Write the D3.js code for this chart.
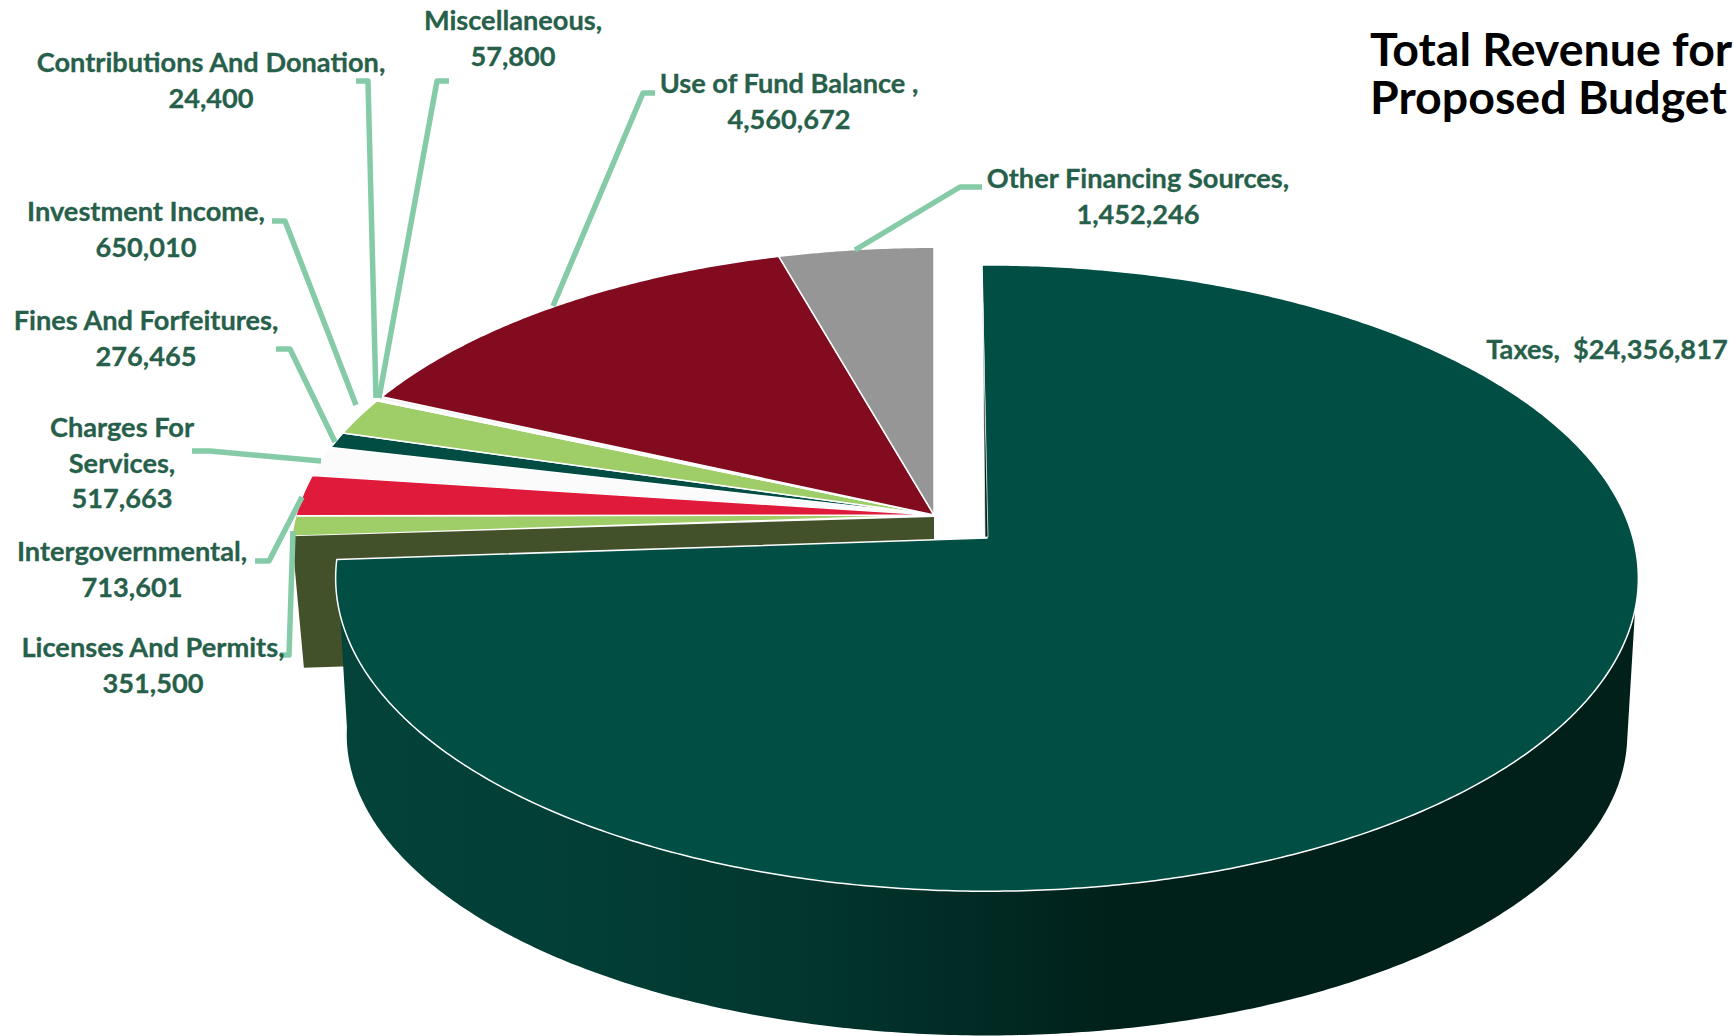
<!DOCTYPE html>
<html>
<head>
<meta charset="utf-8">
<script src="https://cdn.jsdelivr.net/npm/d3@7"></script>
<style>
  html, body { margin: 0; background: #fff; }
  svg { display: block; overflow: hidden; }
  text { font-family: Lato, Carlito, sans-serif; font-weight: 700; white-space: pre; }
</style>
</head>
<body>
<svg id="chart" width="1734" height="1036"></svg>
<script>
// Revenue sources, clockwise from twelve o'clock
const categories = ["Taxes", "Licenses And Permits", "Intergovernmental", "Charges For Services",
  "Fines And Forfeitures", "Investment Income", "Contributions And Donation", "Miscellaneous",
  "Use of Fund Balance", "Other Financing Sources"];
const revenue = [24356817, 351500, 713601, 517663, 276465, 650010, 24400, 57800, 4560672, 1452246];
const sliceColors = ["#014f44", "#9fcd68", "#e01a3a", "#fbfbfb", "#014d43", "#9fcd68",
  "#6f8a3c", "#f4f4f4", "#820b20", "#969696"];

// Label blocks: wrapped text lines, centre x, first baseline
const labelLines = [
  ["Taxes,  $24,356,817"],
  ["Licenses And Permits,", "351,500"],
  ["Intergovernmental,", "713,601"],
  ["Charges For", "Services,", "517,663"],
  ["Fines And Forfeitures,", "276,465"],
  ["Investment Income,", "650,010"],
  ["Contributions And Donation,", "24,400"],
  ["Miscellaneous,", "57,800"],
  ["Use of Fund Balance ,", "4,560,672"],
  ["Other Financing Sources,", "1,452,246"]
];
const labelCentres = [1607, 153, 132, 122, 146, 146, 211, 513, 789, 1138];
const labelBaselines = [359, 657, 561, 437, 330, 221, 72, 30, 93, 188];

// Leader polylines from each slice out to its label
const leaderPaths = [
  null,
  [[293, 531], [289, 655], [280, 655]],
  [[302, 497], [269, 561], [255, 561]],
  [[321, 461], [210, 451], [192, 451]],
  [[335, 442], [290, 349], [276, 349]],
  [[356, 405], [285, 221], [272, 221]],
  [[376, 398], [368, 81], [356, 81]],
  [[379, 398], [437, 81], [449, 81]],
  [[553, 306], [643, 93], [655, 93]],
  [[855, 250], [960, 187], [982, 187]]
];

const titleLines = ["Total Revenue for", "Proposed Budget"];

// Perspective of the tilted disc: top rim and the lower rim of the extrusion
const tilt = 0.128;
const topRim = { a: 646, b: 308, dy: 0 };
const lowRim = { a: 635, b: 296, dy: 158 };
const groupTopRim = { a: 638, b: 302, dy: 0 };
const groupLowRim = { a: 626, b: 296, dy: 132 };
const pieCentre = [934, 515];
const explodedCentre = [987, 538];
const deg = Math.PI / 180;
const taxesLean = -0.5 * deg;   // the large slice's first edge leans slightly left

const project = (centre, rim, angle, radius = 1) => {
  const u = radius * Math.sin(angle), v = radius * Math.cos(angle), w = 1 + tilt * v;
  return [centre[0] + rim.a * u / w, centre[1] + rim.dy - rim.b * v / w];
};

const arcs = d3.pie().sort(null).value(d => d)(revenue);

const line = d3.line();
const svg = d3.select("#chart");

const rimPoints = (centre, rim, a0, a1) => {
  const n = Math.max(2, Math.ceil(Math.abs(a1 - a0) / (0.5 * deg)));
  return d3.range(n + 1).map(i => project(centre, rim, a0 + (a1 - a0) * i / n));
};
const wedge = (centre, rim, a0, a1) =>
  line([[centre[0], centre[1] + rim.dy], ...rimPoints(centre, rim, a0, a1)]) + "Z";

// Shading along the side of the large slice
const grad = svg.append("defs").append("linearGradient")
  .attr("id", "wallShade").attr("gradientUnits", "userSpaceOnUse")
  .attr("x1", 335).attr("x2", 1626).attr("y1", 0).attr("y2", 0);
[[0, "#03433a"], [0.2, "#023e35"], [0.38, "#02352d"], [0.5, "#012a24"], [0.6, "#00211a"], [1, "#002019"]]
  .forEach(([o, c]) => grad.append("stop").attr("offset", o).attr("stop-color", c));

const taxes = arcs[0];
const rest = arcs.slice(1);

// Back group of smaller slices
svg.append("g").selectAll("path").data(rest).join("path")
  .attr("d", d => wedge(pieCentre, groupTopRim, d.startAngle, d.endAngle))
  .attr("fill", (d, i) => sliceColors[i + 1])
  .attr("stroke", (d, i) => i === 2 ? "none" : "#fff")
  .attr("stroke-width", 1.5)
  .attr("stroke-linejoin", "round");

// Cut face of the group, seen below the first small slice
const cutAngle = rest[0].startAngle;
svg.append("path")
  .attr("d", line([
    [pieCentre[0], pieCentre[1] + 2],
    project(pieCentre, groupTopRim, cutAngle),
    project(pieCentre, groupLowRim, cutAngle),
    [pieCentre[0], pieCentre[1] + groupLowRim.dy]
  ]) + "Z")
  .attr("fill", "#43512a");

// Side of the large slice: lower rim joined to the silhouette of the top rim
svg.append("path")
  .attr("d", line([
    project(explodedCentre, topRim, taxes.endAngle),
    ...rimPoints(explodedCentre, lowRim, 264 * deg, 99 * deg),
    project(explodedCentre, topRim, 103 * deg),
    ...rimPoints(explodedCentre, topRim, 103 * deg, taxes.endAngle)
  ]) + "Z")
  .attr("fill", "url(#wallShade)");

// Top of the large slice
svg.append("path")
  .attr("d", wedge(explodedCentre, topRim, taxes.startAngle + taxesLean, taxes.endAngle))
  .attr("fill", sliceColors[0])
  .attr("stroke", "#fff")
  .attr("stroke-width", 1.5)
  .attr("stroke-linejoin", "round");

// Thin dark sliver of the inner face beside the opening
const edgeOuter = project(explodedCentre, topRim, taxes.startAngle + taxesLean, 0.85);
svg.append("path")
  .attr("d", line([edgeOuter, [explodedCentre[0] - 2, explodedCentre[1] - 1], [explodedCentre[0] + 1, explodedCentre[1] - 1]]) + "Z")
  .attr("fill", "#02231e")
  .attr("stroke", "#fff")
  .attr("stroke-width", 0.7);

// Leader lines
svg.append("g").selectAll("path").data(leaderPaths.filter(Boolean)).join("path")
  .attr("d", d => line(d))
  .attr("fill", "none")
  .attr("stroke", "#86cba8")
  .attr("stroke-width", 5.5)
  .attr("stroke-linejoin", "round");

// Value labels
const labelGroup = svg.append("g").attr("fill", "#27604a").attr("stroke", "#27604a")
  .attr("stroke-width", 0.3).attr("font-size", 27.2);
labelLines.forEach((lines, i) => {
  const t = labelGroup.append("text").attr("text-anchor", "middle");
  lines.forEach((s, j) => {
    t.append("tspan").attr("x", labelCentres[i])
      .attr("y", labelBaselines[i] + j * 35.5).text(s);
  });
});

// Title block in the upper right corner
const title = svg.append("text").attr("fill", "#000").attr("font-size", 46.5);
titleLines.forEach((s, j) => {
  title.append("tspan").attr("x", 1370).attr("y", 66 + j * 48).text(s);
});
</script>
</body>
</html>
